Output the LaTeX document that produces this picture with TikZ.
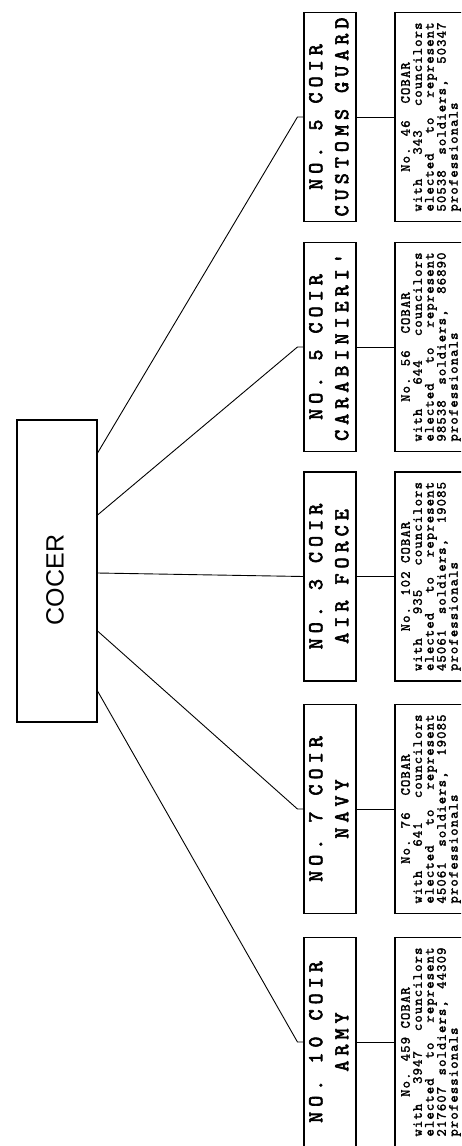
\documentclass[tikz,border=0pt]{standalone}
\usepackage{fontspec}
\usepackage{graphicx}
\setsansfont{Liberation Sans}
\newfontfamily\coirfont{lmmono10-regular.otf}[LetterSpace=24,FakeBold=3]
\newfontfamily\cobarfont{lmmono10-regular.otf}[LetterSpace=8,FakeBold=2]
\newlength\cobarw \setlength\cobarw{189pt}
\newcommand\coirlines[2]{\rotatebox{90}{\coirfont\fontsize{21}{26}\selectfont\begin{tabular}{@{}c@{}}#1\\#2\end{tabular}}}
\newcommand\cobarlines[5]{\rotatebox{90}{\cobarfont\fontsize{14}{11}\selectfont\begin{tabular}{@{}l@{}}\makebox[\cobarw][c]{#1}\\\makebox[\cobarw][s]{#2}\\\makebox[\cobarw][s]{#3}\\\makebox[\cobarw][s]{#4}\\\makebox[\cobarw][l]{#5}\end{tabular}}}
\begin{document}
\begin{tikzpicture}[x=1pt,y=-1pt,
  boxline/.style={draw,line width=1.1pt},
  cocerbox/.style={boxline,minimum width=80pt,minimum height=302pt,inner sep=0pt},
  coirbox/.style={boxline,minimum width=52pt,minimum height=209pt,inner sep=0pt},
  cobarbox/.style={boxline,minimum width=90pt,minimum height=209pt,inner sep=0pt},
  lbl/.style={inner sep=0pt},
  conn/.style={line width=0.9pt}]
\useasboundingbox (0,0) rectangle (461,1146);
\clip (0,0) rectangle (461,1146);
% COCER
\node[cocerbox] (cocer) at (57,571) {};
\node[lbl] (cocert) at (55,580) {\rotatebox{90}{\sffamily\fontsize{25}{30}\selectfont COCER}};
% COIR boxes
\node[coirbox] (cg) at (330,117) {};
\node[coirbox] (cc) at (330,347) {};
\node[coirbox] (af) at (330,576.5) {};
\node[coirbox] (nv) at (330,809) {};
\node[coirbox] (ar) at (330,1042) {};
\node[lbl] (cgt) at (cg.center) {\coirlines{NO. 5 COIR}{CUSTOMS GUARD}};
\node[lbl] (cct) at (cc.center) {\coirlines{NO. 5 COIR}{CARABINIERI'}};
\node[lbl] (aft) at (af.center) {\coirlines{NO. 3 COIR}{AIR FORCE}};
\node[lbl] (nvt) at (nv.center) {\coirlines{NO. 7 COIR}{NAVY}};
\node[lbl] (art) at (ar.center) {\coirlines{NO. 10 COIR}{ARMY}};
% COBAR boxes
\node[cobarbox] (cgb) at (440,117) {};
\node[cobarbox] (ccb) at (440,347) {};
\node[cobarbox] (afb) at (440,576.5) {};
\node[cobarbox] (nvb) at (440,809) {};
\node[cobarbox] (arb) at (440,1042) {};
\node[lbl] (cgbt) at (431,117) {\cobarlines{No. 46\ \ COBAR}{with\hfill 343\hfill councilors}{elected\hfill to\hfill represent}{50538\hfill soldiers,\hfill 50347}{professionals}};
\node[lbl] (ccbt) at (431,347) {\cobarlines{No. 56\ \ COBAR}{with\hfill 644\hfill councilors}{elected\hfill to\hfill represent}{98538\hfill soldiers,\hfill 86890}{professionals}};
\node[lbl] (afbt) at (431,576.5) {\cobarlines{No. 102\ COBAR}{with\hfill 935\hfill councilors}{elected\hfill to\hfill represent}{45061\hfill soldiers,\hfill 19085}{professionals}};
\node[lbl] (nvbt) at (431,809) {\cobarlines{No. 76\ \ COBAR}{with\hfill 641\hfill councilors}{elected\hfill to\hfill represent}{45061\hfill soldiers,\hfill 19085}{professionals}};
\node[lbl] (arbt) at (431,1042) {\cobarlines{No. 459 COBAR}{with\hfill 3947\hfill councilors}{elected\hfill to\hfill represent}{217607\hfill soldiers,\hfill 44309}{professionals}};
% connectors COCER -> COIR
\draw[conn] ([yshift=118pt]cocer.east) -- ([xshift=-6pt]cg.west) -- (cg.west);
\draw[conn] ([yshift=56pt]cocer.east) -- ([xshift=-6pt]cc.west) -- (cc.west);
\draw[conn] ([yshift=-2pt]cocer.east) -- (af.west);
\draw[conn] ([yshift=-60pt]cocer.east) -- ([xshift=-6pt]nv.west) -- (nv.west);
\draw[conn] ([yshift=-120pt]cocer.east) -- ([xshift=-6pt]ar.west) -- (ar.west);
% connectors COIR -> COBAR
\draw[conn] (cg.east) -- (cgb.west);
\draw[conn] (cc.east) -- (ccb.west);
\draw[conn] (af.east) -- (afb.west);
\draw[conn] (nv.east) -- (nvb.west);
\draw[conn] (ar.east) -- (arb.west);
\end{tikzpicture}
\end{document}
